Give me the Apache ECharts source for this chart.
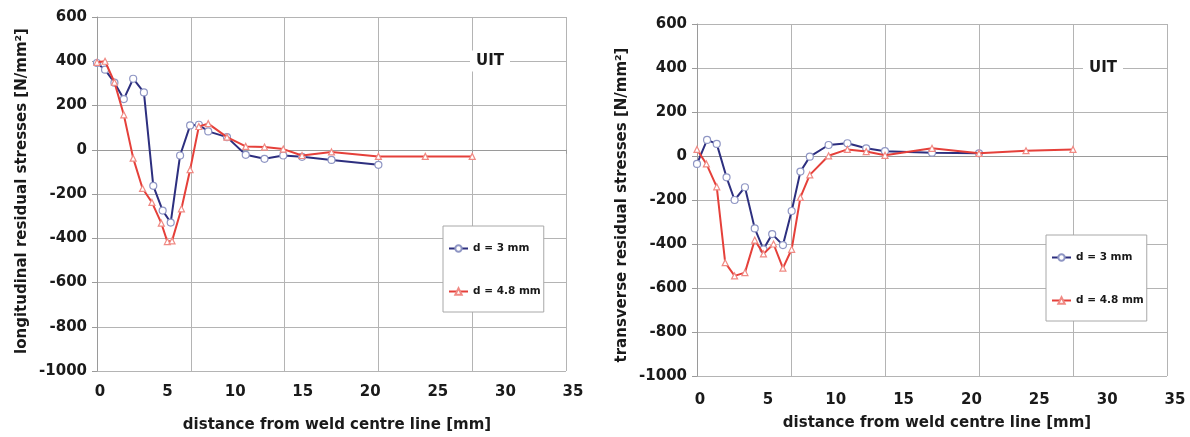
<!DOCTYPE html>
<html>
<head>
<meta charset="utf-8">
<script src="https://cdn.jsdelivr.net/npm/echarts@6/dist/echarts.min.js"></script>
<style>
  html, body { margin: 0; padding: 0; background: #ffffff; }
  #chart { width: 1190px; height: 437px; }
</style>
</head>
<body>
<div id="chart"></div>
<script>
// Residual stresses after UIT treatment, two pin diameters
const seriesNames = ['d = 3 mm', 'd = 4.8 mm'];

// Longitudinal residual stresses [N/mm²]
const longD3X = [0, 0.6, 1.3, 2.0, 2.7, 3.5, 4.2, 4.9, 5.5, 6.2, 6.95, 7.6, 8.3, 9.7, 11.1, 12.5, 13.9, 15.3, 17.5, 21];
const longD3Y = [392, 362, 303, 229, 321, 259, -163, -275, -329, -26, 110, 113, 83, 57, -23, -41, -26, -32, -46, -68];
const longD48X = [0, 0.6, 1.3, 2.0, 2.7, 3.4, 4.1, 4.8, 5.25, 5.6, 6.3, 6.95, 7.6, 8.3, 9.7, 11.1, 12.5, 13.9, 15.3, 17.5, 21, 24.5, 28];
const longD48Y = [395, 400, 305, 158, -38, -175, -238, -332, -415, -412, -267, -90, 105, 118, 57, 15, 12, 3, -26, -10, -30, -30, -30];

// Transverse residual stresses [N/mm²]
const transD3X = [0, 0.75, 1.47, 2.2, 2.8, 3.57, 4.3, 4.95, 5.6, 6.4, 7.05, 7.7, 8.4, 9.8, 11.2, 12.6, 14, 17.5, 21];
const transD3Y = [-36, 73, 55, -97, -200, -142, -329, -424, -355, -405, -250, -71, -3, 50, 58, 35, 22, 15, 12];
const transD48X = [0, 0.7, 1.47, 2.1, 2.8, 3.57, 4.3, 4.95, 5.7, 6.4, 7.05, 7.7, 8.4, 9.8, 11.2, 12.6, 14, 17.5, 21, 24.5, 28];
const transD48Y = [30, -36, -140, -485, -545, -530, -382, -445, -400, -510, -424, -188, -86, 1, 30, 20, 3, 35, 12, 24, 30];

const yTitles = ['longitudinal residual stresses [N/mm²]', 'transverse residual stresses [N/mm²]'];
const xTitle = 'distance from weld centre line [mm]';
const markText = 'UIT';

const FONT = '"DejaVu Sans", "Liberation Sans", sans-serif';
const TEXT = '#1a1a1a';
const GRID_LINE = '#b4b4b4';
const AXIS_LINE = '#9a9a9a';
const BLUE = '#2d2f7f';
const RED = '#e5403a';

const pairs = (xs, ys) => xs.map((x, i) => [x, ys[i]]);
const plain = v => String(v);

// data grids and separate label grids for the distance scale
const grids = [
  { left: 97, top: 17, width: 469, height: 354 },
  { left: 100, top: 17, width: 473, height: 354 },
  { left: 697, top: 24, width: 470, height: 352 },
  { left: 700, top: 24, width: 475, height: 352 }
];

function dataX(gi) {
  return {
    type: 'value', gridIndex: gi, min: 0, max: 35, interval: 7,
    axisLine: { show: true, lineStyle: { color: AXIS_LINE, width: 1 } },
    axisTick: { show: true, length: 4, lineStyle: { color: AXIS_LINE } },
    axisLabel: { show: false },
    splitLine: { show: true, lineStyle: { color: GRID_LINE, width: 1 } }
  };
}
function labelX(gi, margin) {
  return {
    type: 'value', gridIndex: gi, min: 0, max: 35, interval: 5,
    axisLine: { show: false }, axisTick: { show: false }, splitLine: { show: false },
    axisLabel: { show: true, margin: margin, formatter: plain, color: TEXT, fontFamily: FONT, fontWeight: 'bold', fontSize: 15 }
  };
}
function dataY(gi) {
  return {
    type: 'value', gridIndex: gi, min: -1000, max: 600, interval: 200,
    axisLine: { show: true, lineStyle: { color: AXIS_LINE, width: 1 } },
    axisTick: { show: true, length: 5, lineStyle: { color: AXIS_LINE } },
    axisLabel: { show: true, margin: 10, formatter: plain, color: TEXT, fontFamily: FONT, fontWeight: 'bold', fontSize: 15 },
    splitLine: { show: true, lineStyle: { color: GRID_LINE, width: 1 } }
  };
}
function hiddenY(gi) {
  return { type: 'value', gridIndex: gi, min: -1000, max: 600, show: false };
}

function lineSeries(name, data, axisIdx, color, symbol, symbolSize, borderColor) {
  return {
    name: name, type: 'line', data: data,
    xAxisIndex: axisIdx, yAxisIndex: axisIdx,
    symbol: symbol, symbolSize: symbolSize, showAllSymbol: true,
    lineStyle: { color: color, width: 2 },
    itemStyle: { color: '#ffffff', borderColor: borderColor, borderWidth: 1.2 },
    emphasis: { disabled: true },
    animation: false, z: symbol === 'circle' ? 3 : 4
  };
}

function legendAt(left, top) {
  return {
    data: seriesNames, left: left, top: top, orient: 'vertical',
    padding: [17, 3, 15, 5], itemGap: 32, itemWidth: 19, itemHeight: 8,
    backgroundColor: '#ffffff', borderColor: '#a8a8a8', borderWidth: 1,
    textStyle: { color: TEXT, fontFamily: FONT, fontWeight: 'bold', fontSize: 10.5 },
    selectedMode: false
  };
}

function textGraphic(x, y, text, rotate) {
  return {
    type: 'text', x: x, y: y, rotation: rotate ? Math.PI / 2 : 0, z: 100,
    style: {
      text: text, fill: TEXT, font: 'bold 15px ' + FONT,
      align: 'center', verticalAlign: 'middle'
    }
  };
}

function markLabel(x, y) {
  return {
    type: 'text', x: x, y: y, z: 100,
    style: { text: markText, fill: TEXT, font: 'bold 15px ' + FONT, align: 'center', verticalAlign: 'middle',
             backgroundColor: '#ffffff', padding: [3, 6] }
  };
}

const chart = echarts.init(document.getElementById('chart'), null, { renderer: 'canvas' });
chart.setOption({
  backgroundColor: '#ffffff',
  animation: false,
  grid: grids,
  xAxis: [dataX(0), labelX(1, 14), dataX(2), labelX(3, 17)],
  yAxis: [dataY(0), hiddenY(1), dataY(2), hiddenY(3)],
  legend: [legendAt(443, 226), legendAt(1046, 235)],
  series: [
    lineSeries(seriesNames[0], pairs(longD3X, longD3Y), 0, BLUE, 'circle', 7, '#8f96c4'),
    lineSeries(seriesNames[1], pairs(longD48X, longD48Y), 0, RED, 'triangle', 6, '#f08a84'),
    lineSeries(seriesNames[0], pairs(transD3X, transD3Y), 2, BLUE, 'circle', 7, '#8f96c4'),
    lineSeries(seriesNames[1], pairs(transD48X, transD48Y), 2, RED, 'triangle', 6, '#f08a84')
  ],
  graphic: [
    textGraphic(22, 191, yTitles[0], true),
    textGraphic(622, 205, yTitles[1], true),
    textGraphic(337, 425, xTitle, false),
    textGraphic(937, 423, xTitle, false),
    markLabel(490, 61),
    markLabel(1103, 68)
  ]
});
</script>
</body>
</html>
